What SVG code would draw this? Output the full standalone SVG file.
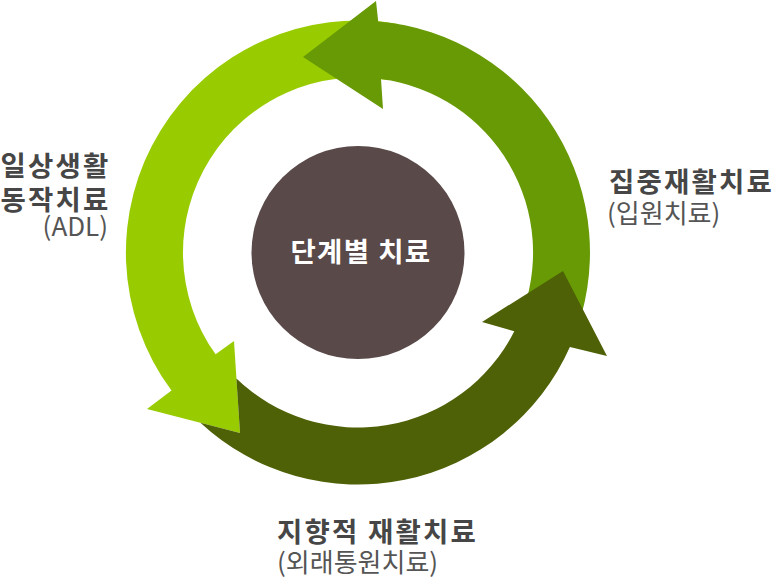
<svg xmlns="http://www.w3.org/2000/svg" width="773" height="578" viewBox="0 0 773 578">
  <style>
    .title { font-family: "Noto Sans CJK KR", "Noto Sans", sans-serif; font-weight: 700; font-size: 27.5px; letter-spacing: 2.2px; fill: #464646; }
    .sub { font-family: "Noto Sans CJK KR", "Noto Sans", sans-serif; font-weight: 400; font-size: 26px; fill: #555555; }
    .center { font-family: "Noto Sans CJK KR", "Noto Sans", sans-serif; font-weight: 700; font-size: 27.5px; letter-spacing: 1.4px; fill: #ffffff; }
  </style>
  <rect width="773" height="578" fill="#ffffff"/>
  <g id="connectors">
    <path id="arrow-adl" fill="#99cc00" d="M398.3,24.0 A232,232 0 0 0 171.5,390.6 L147,409 L240,433 L234,341 L215.6,354.3 A175,175 0 0 1 388.4,80.2 Z"/>
    <path id="arrow-intensive" fill="#679a05" d="M573.1,339.4 A232,232 0 0 0 378.2,21.4 L376,1 L303,57 L383,109 L381.0,79.0 A175,175 0 0 1 520.3,318.1 Z"/>
    <path id="arrow-community" fill="#4e6106" d="M200.4,422.8 A232,232 0 0 0 569.9,347.0 L607,356 L563,271 L482,322 L514.3,331.2 A175,175 0 0 1 236.4,378.4 L240,433 Z"/>
  </g>
  <g id="node-center">
    <circle cx="358" cy="252.5" r="106.5" fill="#594949"/>
    <text class="center" x="361" y="262" text-anchor="middle">단계별 치료</text>
  </g>
  <g id="node-adl">
    <text class="title" x="110.5" y="176" text-anchor="end">일상생활</text>
    <text class="title" x="110.5" y="210" text-anchor="end">동작치료</text>
    <text class="sub" x="108" y="236" text-anchor="end">(ADL)</text>
  </g>
  <g id="node-intensive">
    <text class="title" x="609" y="192">집중재활치료</text>
    <text class="sub" x="607" y="223">(입원치료)</text>
  </g>
  <g id="node-community">
    <text class="title" x="277" y="542">지향적 재활치료</text>
    <text class="sub" x="277" y="572">(외래통원치료)</text>
  </g>
</svg>
